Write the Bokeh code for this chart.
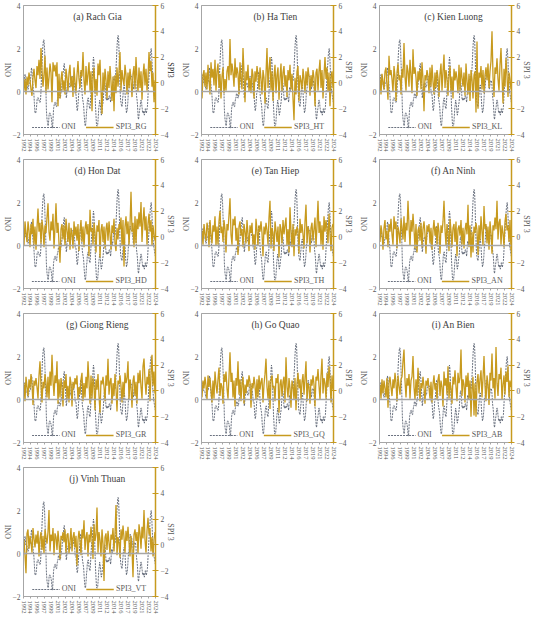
import numpy as np
from bokeh.plotting import figure
from bokeh.models import Range1d, LinearAxis, FixedTicker, Legend, LegendItem, Span, Label, CustomJSTickFormatter
from bokeh.layouts import column, row
from bokeh.embed import file_html
from bokeh.resources import INLINE

# ---------------- data ----------------
XLABELS = ["1992", "1994", "1996", "1997", "1999", "2001", "2002", "2004", "2006", "2007",
           "2009", "2011", "2012", "2014", "2016", "2017", "2019", "2021", "2022", "2024"]

# ONI, monthly, Jan 1993 - Dec 2024
ONI = [
    0.3, 0.4, 0.6, 0.7, 0.8, 0.7, 0.4, 0.4, 0.4, 0.4, 0.3, 0.2,
    0.1, 0.1, 0.2, 0.3, 0.4, 0.4, 0.4, 0.4, 0.6, 0.7, 1.0, 1.1,
    1.0, 0.7, 0.5, 0.3, 0.1, 0.0, -0.2, -0.5, -0.8, -1.0, -1.0, -1.0,
    -0.9, -0.8, -0.6, -0.4, -0.3, -0.3, -0.3, -0.3, -0.4, -0.4, -0.5, -0.5,
    -0.5, -0.4, -0.1, 0.3, 0.8, 1.2, 1.6, 1.9, 2.1, 2.3, 2.4, 2.4,
    2.2, 1.9, 1.4, 1.0, 0.5, -0.1, -0.8, -1.1, -1.3, -1.4, -1.5, -1.6,
    -1.5, -1.3, -1.1, -1.0, -1.0, -1.0, -1.1, -1.1, -1.2, -1.3, -1.5, -1.7,
    -1.7, -1.4, -1.1, -0.8, -0.7, -0.6, -0.6, -0.5, -0.5, -0.6, -0.7, -0.7,
    -0.7, -0.5, -0.4, -0.3, -0.3, -0.1, -0.1, -0.1, -0.2, -0.3, -0.3, -0.3,
    -0.1, 0.0, 0.1, 0.2, 0.4, 0.7, 0.8, 0.9, 1.0, 1.2, 1.3, 1.1,
    0.9, 0.6, 0.4, 0.0, -0.3, -0.2, 0.1, 0.2, 0.3, 0.3, 0.4, 0.4,
    0.4, 0.3, 0.2, 0.2, 0.2, 0.3, 0.5, 0.6, 0.7, 0.7, 0.7, 0.7,
    0.6, 0.6, 0.4, 0.4, 0.3, 0.1, -0.1, -0.1, -0.1, -0.3, -0.6, -0.8,
    -0.9, -0.8, -0.6, -0.4, -0.1, 0.0, 0.1, 0.3, 0.5, 0.8, 0.9, 0.9,
    0.7, 0.2, -0.1, -0.3, -0.4, -0.5, -0.6, -0.8, -1.1, -1.3, -1.5, -1.6,
    -1.6, -1.4, -1.2, -0.9, -0.8, -0.5, -0.4, -0.3, -0.3, -0.4, -0.6, -0.7,
    -0.8, -0.8, -0.6, -0.3, 0.0, 0.3, 0.5, 0.6, 0.7, 1.0, 1.4, 1.6,
    1.5, 1.2, 0.8, 0.4, -0.2, -0.7, -1.0, -1.3, -1.6, -1.6, -1.6, -1.6,
    -1.4, -1.2, -0.9, -0.7, -0.6, -0.4, -0.5, -0.6, -0.8, -1.0, -1.1, -1.0,
    -0.9, -0.7, -0.6, -0.5, -0.3, 0.0, 0.2, 0.4, 0.4, 0.3, 0.1, -0.2,
    -0.4, -0.4, -0.3, -0.3, -0.4, -0.4, -0.4, -0.3, -0.3, -0.2, -0.2, -0.3,
    -0.4, -0.5, -0.3, 0.0, 0.2, 0.2, 0.0, 0.1, 0.2, 0.5, 0.6, 0.7,
    0.5, 0.5, 0.5, 0.7, 0.9, 1.2, 1.5, 1.9, 2.2, 2.4, 2.6, 2.6,
    2.5, 2.1, 1.6, 0.9, 0.4, -0.1, -0.4, -0.5, -0.6, -0.7, -0.7, -0.6,
    -0.3, -0.2, 0.1, 0.2, 0.3, 0.3, 0.1, -0.1, -0.4, -0.7, -0.8, -1.0,
    -0.9, -0.9, -0.7, -0.5, -0.2, 0.0, 0.1, 0.2, 0.5, 0.8, 0.9, 0.8,
    0.7, 0.7, 0.7, 0.7, 0.5, 0.5, 0.3, 0.1, 0.2, 0.3, 0.5, 0.5,
    0.5, 0.5, 0.4, 0.2, -0.1, -0.3, -0.4, -0.6, -0.9, -1.2, -1.3, -1.2,
    -1.0, -0.9, -0.8, -0.7, -0.5, -0.4, -0.4, -0.5, -0.7, -0.8, -1.0, -1.0,
    -1.0, -0.9, -1.0, -1.1, -1.0, -0.9, -0.8, -0.9, -1.0, -1.0, -0.9, -0.8,
    -0.7, -0.4, -0.1, 0.2, 0.5, 0.8, 1.1, 1.3, 1.6, 1.8, 1.9, 2.0,
    1.8, 1.5, 1.1, 0.7, 0.4, 0.2, 0.0, -0.1, -0.2, -0.3, -0.4, -0.5,
]

# SPI3 at 132 evenly spaced positions
SPI3_RG = [
    -0.6, 0.3, -0.9, 0.5, -0.2, 0.8, 0.2, -0.5, -1.0, 0.4, 1.1, 0.2, -0.4, 1.3, 0.6, 1.8,
    0.3, 2.7, 1.0, -0.3, 0.6, 2.1, -0.8, 1.2, -0.5, 0.4, 1.5, 0.8, -1.5, 1.6, 0.9, 1.4,
    0.5, 1.6, -1.8, 0.7, -1.2, 0.3, 0.9, -0.6, 0.2, -0.9, 1.1, 0.4, -0.7, 0.8, 1.4, -0.3,
    0.5, -1.1, 1.2, 0.1, -0.8, 0.6, 1.7, 0.3, -0.4, 1.0, 0.5, 2.4, 0.2, -0.9, 1.3, -0.2,
    0.7, 1.6, -0.6, 0.9, -2.2, 0.5, 1.2, -0.8, 0.3, -1.0, 1.5, 0.6, 1.8, -0.5, -2.4, 0.8,
    -0.6, 1.1, 0.2, -1.2, 0.9, -0.4, 1.3, 0.1, -1.4, 0.5, -2.2, 0.6, -0.8, 1.2, -0.3, 0.9,
    2.4, -0.6, 1.0, 0.3, -0.2, 1.4, 0.6, -0.9, 0.8, -0.4, 1.1, 0.2, -1.1, 0.7, 1.3, -0.5,
    2.0, 0.3, -0.7, 1.2, -0.4, 0.9, -1.3, 0.6, 1.5, -0.2, 1.1, -0.6, 0.4, 2.4, 0.9, 1.7,
    -0.3, 0.8, -1.5, 0.2,
]
SPI3_HT = [
    -1.2, 0.6, 1.0, -0.3, 0.8, -0.5, 1.4, 0.2, -0.9, 1.6, 0.4, 1.1, -0.2, 1.8, -0.6, 0.9,
    1.5, -0.4, 0.7, -1.2, 0.5, 1.2, -0.8, 0.3, -0.6, 0.9, 1.3, 0.2, 3.4, 0.6, 1.5, 0.8,
    -0.3, 1.9, 0.4, 1.2, 0.7, -0.9, 1.6, 0.3, -0.5, 2.7, 0.8, -1.5, 0.9, 0.2, 1.4, -0.7,
    0.4, -0.8, 1.1, 0.6, -1.2, 0.9, 0.1, 1.3, 0.6, -0.5, 1.2, 0.3, -0.9, 1.0, 0.4, -1.6,
    0.7, 2.7, -0.4, 1.1, 2.0, -0.6, 0.9, -1.4, 0.5, 1.4, -0.8, 0.6, 1.2, -1.3, 0.4, 1.5,
    -0.7, 0.8, 1.3, -0.3, 0.6, -1.1, 1.0, 0.2, 1.4, -0.5, 0.7, -1.2, -2.9, 0.4, -0.9, 0.9,
    1.3, -1.4, 0.6, 0.2, -0.5, 1.1, 0.3, -0.8, 0.9, -0.2, 1.2, 0.5, -1.0, 0.6, -0.3, 1.0,
    0.4, -1.8, 0.8, 1.1, -0.6, 0.9, 1.8, -0.4, 1.0, -1.2, 0.6, 2.0, 0.3, 1.2, -0.7, 0.8,
    -1.8, 0.5, 0.9, -0.4,
]
SPI3_KL = [
    0.4, -0.9, 0.7, 0.1, -0.5, 0.9, 1.2, -0.2, -1.3, 2.1, 0.6, 1.0, 0.3, -0.7, 1.3, 0.5,
    -1.4, 0.8, 1.5, 0.2, 0.6, -0.9, 1.1, 0.4, 3.1, 0.5, -0.6, 1.4, 0.9, -0.3, 1.8, 0.6,
    -0.8, 2.6, 0.7, 1.2, 0.4, -1.0, 0.9, 0.2, 1.1, -0.5, 1.6, 0.3, -2.2, 0.6, 0.2, 1.0,
    0.5, -0.8, 1.2, -0.3, 1.4, 0.1, -0.9, 0.8, -0.4, 1.0, 0.4, -1.1, 0.7, 1.5, -0.6, 0.9,
    2.2, -0.4, 1.0, 0.3, -1.0, 0.6, 1.3, -0.7, 0.5, -1.2, 1.1, 0.2, 0.9, 0.3, -0.8, 1.4,
    -0.6, 1.2, 0.4, -0.3, 0.8, -1.0, 1.5, 0.1, -0.9, 0.7, -1.4, 1.0, 0.3, -1.2, 0.6, 0.9,
    -2.3, 3.2, -2.0, 0.8, 0.4, 1.3, -0.5, 1.0, -0.8, 0.6, 1.2, 0.2, 1.5, -0.4, 0.9, 1.7,
    4.0, 0.5, -1.1, 1.2, 0.7, 1.9, 0.3, -0.6, 1.4, 2.7, 0.5, -1.6, 1.1, -0.3, 1.9, 0.6,
    -1.1, 0.8, 0.3, -0.5,
]
SPI3_HD = [
    -0.7, 1.2, 0.3, -0.4, 1.2, 0.5, -0.8, 1.0, 0.2, 1.4, -0.6, 0.8, -1.0, 0.7, 2.2, 0.4,
    1.1, -0.5, 1.3, 0.6, -0.8, 0.9, 0.3, 1.5, 2.6, 0.4, -0.3, 1.2, 0.5, 1.8, -0.9, 0.7,
    2.6, 0.3, 1.1, -0.5, -2.0, 0.6, 1.0, -0.2, 0.9, -0.7, 1.4, 0.5, -0.4, 1.1, -1.0, 0.7,
    0.3, -0.9, 1.2, 0.1, 0.8, -0.3, 1.0, -1.1, 0.5, 1.3, -0.4, 0.8, -0.8, 0.6, 1.2, 0.2,
    1.0, -1.5, 2.1, 0.4, 0.7, -0.6, 1.1, 0.3, -1.2, 0.9, 0.4, 1.3, -1.6, 0.5, 1.0, -0.4,
    0.8, -0.9, 0.6, 1.1, -0.3, 1.2, 0.2, -1.0, 0.9, 0.3, 1.4, -0.5, -1.1, 0.7, -0.2, 1.0,
    0.6, 1.5, -0.7, 1.3, -2.3, 0.8, 1.6, 0.2, 1.2, -0.6, 0.9, 3.5, 0.4, 1.1, -0.8, 1.6,
    -0.5, 1.4, 0.6, 1.9, 0.8, 2.7, -0.4, 1.2, 2.3, 0.5, 1.6, -0.6, 1.0, 1.8, 0.4, 1.3,
    -0.7, 0.9, 0.2, -0.3,
]
SPI3_TH = [
    0.5, -0.6, 1.0, 0.2, -0.3, 1.1, 0.6, -0.8, 1.3, 0.2, -0.5, 0.9, 0.4, 1.6, -0.7, 0.8,
    -0.6, 1.2, 2.0, 0.3, 0.8, -0.4, 1.3, 0.6, -1.2, 1.0, 0.5, 1.7, 3.0, 0.2, -0.6, 1.4,
    0.9, 1.6, -0.3, 0.7, -1.4, 0.8, 1.2, 0.1, 0.6, -0.8, 1.0, 0.4, -0.5, 1.3, 0.2, -1.1,
    0.9, 0.3, 1.1, -0.6, 0.2, -1.0, 1.4, 0.5, -0.7, 0.9, 0.4, 1.2, 0.3, -1.5, 0.8, 0.2,
    1.1, 0.5, -0.6, 1.5, 2.8, -0.9, 0.7, 0.3, -1.1, 1.2, 0.5, -0.4, 0.8, -1.6, 1.0, 0.6,
    -0.5, 1.3, 0.2, 0.9, 1.5, -0.7, 0.6, -1.2, 2.3, 0.4, -0.8, 1.0, -1.5, 0.6, 0.1, 0.8,
    0.5, -1.3, 1.4, 0.3, 1.0, 0.2, -0.9, 1.2, 2.5, -0.5, 0.8, 0.4, -1.2, 0.7, 1.1, -0.3,
    0.6, 1.5, -0.8, 0.9, 2.8, 0.3, 1.2, -0.6, 0.9, -1.0, 1.6, 0.4, 1.3, 0.6, -0.5, 1.8,
    0.2, -1.1, 0.7, 1.0,
]
SPI3_AN = [
    -0.4, 0.9, 0.3, -1.0, 0.7, 1.3, -0.2, 0.5, -0.8, 1.0, 0.4, 1.4, 0.2, -0.6, 1.6, 0.6,
    1.2, -0.9, 0.8, 0.3, -0.5, 1.4, 0.7, -0.2, 1.6, -0.4, 1.1, 0.5, 2.8, 0.9, -0.7, 1.3,
    0.4, 1.8, 0.6, -0.9, 1.0, -1.2, 0.5, 0.8, -0.3, 1.1, -0.8, 0.6, 1.2, 0.2, -1.3, 0.9,
    0.4, 1.0, -0.5, 0.7, -1.0, 0.5, 1.3, 0.1, 0.8, -0.6, 1.1, 0.4, -1.3, 0.9, 0.3, 1.2,
    2.8, 0.6, -0.7, 1.0, 0.3, -1.1, 1.4, 0.5, -0.8, 0.7, 1.0, -0.4, 1.2, -1.5, 0.6, 0.9,
    0.1, 1.3, -0.6, 0.7, -0.9, 0.5, 1.1, 0.2, 2.5, -0.8, 0.9, -1.6, 0.4, -1.2, 0.8, 0.3,
    1.1, 0.5, -1.4, 0.9, -0.3, 1.6, 0.4, -0.7, 2.4, 0.6, 1.0, -0.5, 0.8, -1.0, 1.2, 0.3,
    -1.3, 0.9, 0.5, 1.5, 0.6, 2.8, -0.2, 1.1, 1.4, -0.6, 0.9, 0.3, -0.8, 1.2, 1.8, 0.5,
    0.9, -0.4, 1.3, -1.0,
]
SPI3_GR = [
    0.6, -0.8, 1.1, 0.3, -0.4, 0.9, 0.2, 1.3, 0.5, -1.1, 0.8, 0.4, 1.0, 0.3, -0.6, 1.2,
    2.3, 0.4, -0.9, 0.7, 0.2, 1.3, 0.6, -0.5, 1.1, -0.7, 1.5, 0.4, 2.8, 0.8, -0.4, 1.2,
    0.6, 2.3, -1.0, 0.9, -0.5, 1.0, 0.3, -1.2, 0.8, 0.2, 1.3, -0.6, 0.4, -0.9, 1.1, 0.6,
    -1.2, 0.7, 0.2, 1.0, 0.5, 1.2, -0.7, 0.3, -0.3, 0.9, 1.4, -0.8, 0.6, -0.5, 1.1, 0.2,
    2.3, 0.7, -1.0, 1.2, -0.6, 1.0, 0.4, -1.5, 0.9, 0.1, 1.3, -0.4, -1.7, 0.8, 0.5, 1.1,
    0.3, -0.8, 1.2, 0.4, 2.5, -0.3, 0.7, 1.0, -1.0, 0.6, -0.4, 1.3, 0.2, -1.6, 0.8, 0.5,
    1.2, 0.4, -0.9, 0.7, -0.5, 1.4, 0.6, 1.0, 2.3, -0.7, 0.9, 0.2, -1.3, 0.8, 1.2, -0.4,
    0.7, -1.0, 1.4, 0.6, 1.6, 0.3, -0.6, 1.9, 2.5, 0.8, -0.3, 1.1, 0.5, 1.7, -0.8, 1.3,
    2.8, 0.4, 1.5, -0.2,
]
SPI3_GQ = [
    -0.5, 0.8, 0.2, 1.1, 0.4, -0.7, 1.2, 0.3, 1.0, 0.1, -0.9, 0.8, -0.6, 1.5, 0.5, -0.2,
    0.9, 1.8, -0.4, 0.6, 0.3, -1.0, 1.3, 0.7, 1.5, 0.2, -0.6, 1.1, 3.0, 0.7, 1.4, -0.5,
    0.8, -1.2, 1.0, 0.4, 2.3, -0.3, 0.9, -0.8, 0.6, 1.1, -1.0, 0.5, -0.2, 0.9, 0.3, 1.2,
    0.7, -1.3, 0.6, 0.2, 1.1, 0.4, -0.7, 0.9, -0.5, 1.2, 0.1, 0.7, 1.0, -0.9, 0.5, 1.3,
    2.5, 0.3, -0.6, 0.8, -1.4, 0.9, 1.2, 0.2, 0.4, -0.8, 1.0, 0.6, 1.3, -1.7, 0.5, 0.9,
    -0.4, 0.7, 1.1, -0.9, 2.6, 0.3, -0.5, 1.0, 0.2, -1.3, 0.8, 0.4, -0.7, 1.0, -1.5, 0.6,
    1.4, 0.2, 0.9, -0.6, 0.7, 1.3, -0.3, 1.0, 2.3, -0.8, 0.6, 0.3, -1.0, 0.9, 0.4, 1.2,
    0.5, -1.2, 1.1, 0.8, 1.7, 0.4, -0.7, 1.2, 2.5, -0.2, 1.0, 0.6, -0.6, 1.4, 0.3, 1.9,
    0.8, -0.9, 1.2, 0.1,
]
SPI3_AB = [
    0.5, -0.6, 0.9, -0.2, 0.8, 0.2, -0.5, 1.0, -1.3, 0.6, 1.1, 0.3, -0.4, 0.9, 0.2, 1.4,
    0.6, -0.8, 1.2, 0.4, -0.3, 0.9, 1.1, 2.3, 3.2, 0.8, -0.5, 1.0, 0.4, 1.3, -0.6, 0.8,
    1.1, 2.7, 0.3, -0.7, 0.9, -0.4, 1.8, 0.5, -0.8, 0.6, 0.2, 1.1, 0.3, -1.0, 0.8, 0.4,
    1.0, 0.2, -0.6, 0.7, -0.9, 0.5, 1.2, 0.1, 0.6, -0.7, 0.9, 1.3, -0.4, 0.8, 0.3, -1.2,
    1.5, 0.4, 1.0, -0.3, 1.9, -0.6, 0.7, 0.2, -1.0, 1.1, 0.5, 1.6, 0.3, -0.8, 1.4, 0.6,
    1.0, 3.2, -0.4, 0.9, 0.5, -0.9, 1.2, 0.3, 1.4, -0.6, 0.8, -2.0, 0.2, 1.1, -1.9, 0.6,
    -2.0, 0.7, 1.3, -0.2, 0.9, 1.6, -0.5, 1.0, 2.7, 0.4, -0.8, 1.2, 0.5, -1.1, 1.4, 0.8,
    2.9, 0.2, 1.0, -0.6, 3.4, 0.6, -0.4, 1.3, 0.9, 1.8, -0.7, 0.5, 1.2, -0.3, 1.5, 0.7,
    1.9, -0.5, 0.8, 0.3,
]
SPI3_VT = [
    0.4, -0.8, -2.2, 0.9, 1.2, -0.3, 0.7, 0.2, -0.6, 1.3, 0.5, -0.2, 0.8, 0.1, 1.1, -0.9,
    0.5, 1.0, -0.4, 0.7, -0.7, 1.2, 0.6, 0.1, 1.0, 2.7, -0.5, 0.8, 0.3, 1.3, -0.8, 0.9,
    0.6, -0.4, 1.1, 0.2, -1.1, 0.7, 0.4, 1.0, 0.2, 1.2, -0.6, 0.8, 0.9, -0.7, 0.3, 1.3,
    -0.5, 0.6, 1.0, -0.2, 0.7, -1.6, 0.4, 1.1, 0.3, -0.8, 1.2, 0.5, 1.9, -0.4, 0.6, 1.0,
    -0.9, 0.8, 0.2, 1.4, 0.5, -1.1, 1.6, 0.3, 0.8, 2.9, -0.6, 1.0, 0.4, -0.9, 1.2, 0.1,
    -2.8, 0.6, 0.9, -0.4, 1.1, 0.2, -0.7, 0.8, 0.4, 1.3, -0.5, 0.9, 3.1, -0.8, 0.6, 0.2,
    -1.0, 1.2, 0.4, 1.5, 0.6, -0.6, 1.1, 0.3, 1.4, 0.2, -0.9, 0.7, -0.4, -2.5, 0.8, 1.2,
    0.3, 1.0, -0.7, 1.6, 0.9, -0.3, 1.4, 0.5, 2.7, 0.4, -0.6, 1.1, 2.1, 0.8, 1.3, -0.5,
    0.6, -0.9, 0.4, 1.0,
]

PANELS = [
    ("(a) Rach Gia", "SPI3_RG", SPI3_RG, "SPI3"),
    ("(b) Ha Tien", "SPI3_HT", SPI3_HT, "SPI 3"),
    ("(c) Kien Luong", "SPI3_KL", SPI3_KL, "SPI 3"),
    ("(d) Hon Dat", "SPI3_HD", SPI3_HD, "SPI 3"),
    ("(e) Tan Hiep", "SPI3_TH", SPI3_TH, "SPI 3"),
    ("(f) An Ninh", "SPI3_AN", SPI3_AN, "SPI 3"),
    ("(g) Giong Rieng", "SPI3_GR", SPI3_GR, "SPI 3"),
    ("(h) Go Quao", "SPI3_GQ", SPI3_GQ, "SPI 3"),
    ("(i) An Bien", "SPI3_AB", SPI3_AB, "SPI 3"),
    ("(j) Vinh Thuan", "SPI3_VT", SPI3_VT, "SPI 3"),
]

# ---------------- styling ----------------
FONT = "Liberation Serif"
GOLD = "#C79A1E"
ONI_C = "#5A6272"
GRAY = "#A6A6A6"
TXT = "#595959"
T0, T1 = 1993.0, 2025.0

oni_t = [T0 + (i + 0.5) / 12.0 for i in range(len(ONI))]


def make_panel(title, legend_name, spi, spi_label):
    n = len(spi)
    spi_t = list(np.linspace(T0 + 0.12, T1 - 0.12, n))
    p = figure(width=178, height=154, x_range=Range1d(T0, T1), y_range=Range1d(-2, 4),
               output_backend="svg", toolbar_location=None,
               min_border_left=10, min_border_right=10, min_border_top=5, min_border_bottom=18)
    p.extra_y_ranges = {"spi": Range1d(-4, 6)}
    p.xgrid.visible = False
    p.ygrid.visible = False
    p.outline_line_color = GRAY
    p.outline_line_width = 1
    p.background_fill_color = "white"
    p.border_fill_color = "white"

    # x axis
    xa = p.xaxis[0]
    xa.ticker = FixedTicker(ticks=list(np.linspace(T0, T1, len(XLABELS))))
    xa.formatter = CustomJSTickFormatter(args=dict(labels=XLABELS), code="return labels[index] || '';")
    xa.major_label_orientation = "vertical"
    xa.major_label_text_font = FONT
    xa.major_label_text_font_size = "6.5px"
    xa.major_label_text_color = TXT
    xa.major_label_standoff = 2
    xa.major_tick_in = 0
    xa.major_tick_out = 2
    xa.major_tick_line_color = GRAY
    xa.axis_line_color = GRAY
    xa.minor_tick_line_color = None

    # left axis (ONI)
    ya = p.yaxis[0]
    ya.ticker = FixedTicker(ticks=[-2, 0, 2, 4])
    ya.axis_label = "ONI"
    ya.axis_label_text_font = FONT
    ya.axis_label_text_font_style = "normal"
    ya.axis_label_text_font_size = "8px"
    ya.axis_label_text_color = TXT
    ya.axis_label_standoff = -3
    ya.major_label_text_font = FONT
    ya.major_label_text_font_size = "7.5px"
    ya.major_label_text_color = TXT
    ya.major_label_standoff = 3
    ya.major_tick_in = 0
    ya.major_tick_out = 0
    ya.axis_line_color = GRAY
    ya.minor_tick_line_color = None

    # right axis (SPI3)
    ra = LinearAxis(y_range_name="spi", ticker=FixedTicker(ticks=[-4, -2, 0, 2, 4, 6]),
                    axis_label=spi_label)
    ra.axis_label_text_font = FONT
    ra.axis_label_text_font_style = "normal"
    ra.axis_label_text_font_size = "8px"
    ra.axis_label_text_color = "#262626" if spi_label == "SPI3" else TXT
    ra.axis_label_standoff = -5
    ra.major_label_text_font = FONT
    ra.major_label_text_font_size = "7.5px"
    ra.major_label_text_color = TXT
    ra.major_label_standoff = 2
    ra.major_tick_in = 3
    ra.major_tick_out = 3
    ra.major_tick_line_color = GOLD
    ra.axis_line_color = GOLD
    ra.axis_line_width = 1.5
    ra.minor_tick_line_color = None
    p.add_layout(ra, "right")

    p.add_layout(Span(location=0, dimension="width", line_color=GRAY, line_width=1.5))

    r_oni = p.line(oni_t, ONI, line_color=ONI_C, line_width=0.9, line_dash="2 1")
    r_spi = p.line(spi_t, spi, y_range_name="spi", line_color=GOLD, line_width=1.3)

    leg = Legend(items=[LegendItem(label="ONI", renderers=[r_oni]),
                        LegendItem(label=legend_name, renderers=[r_spi])],
                 location="bottom_center", orientation="horizontal")
    leg.background_fill_alpha = 0
    leg.border_line_alpha = 0
    leg.label_text_font = FONT
    leg.label_text_font_size = "8px"
    leg.label_text_color = TXT
    leg.glyph_width = 28
    leg.glyph_height = 8
    leg.label_standoff = 2
    leg.label_width = 10
    leg.spacing = 10
    leg.padding = 1
    leg.margin = 2
    leg.label_height = 8
    p.add_layout(leg)

    p.add_layout(Label(x=T0 + 0.56 * (T1 - T0), y=3.45, text=title, text_align="center",
                       text_baseline="middle", text_font=FONT, text_font_size="9.5px",
                       text_color="#404040"))
    return p


figs = [make_panel(*pp) for pp in PANELS]
layout = column(row(*figs[0:3]), row(*figs[3:6]), row(*figs[6:9]), row(figs[9]))

open("out.html", "w").write(file_html(layout, INLINE))
